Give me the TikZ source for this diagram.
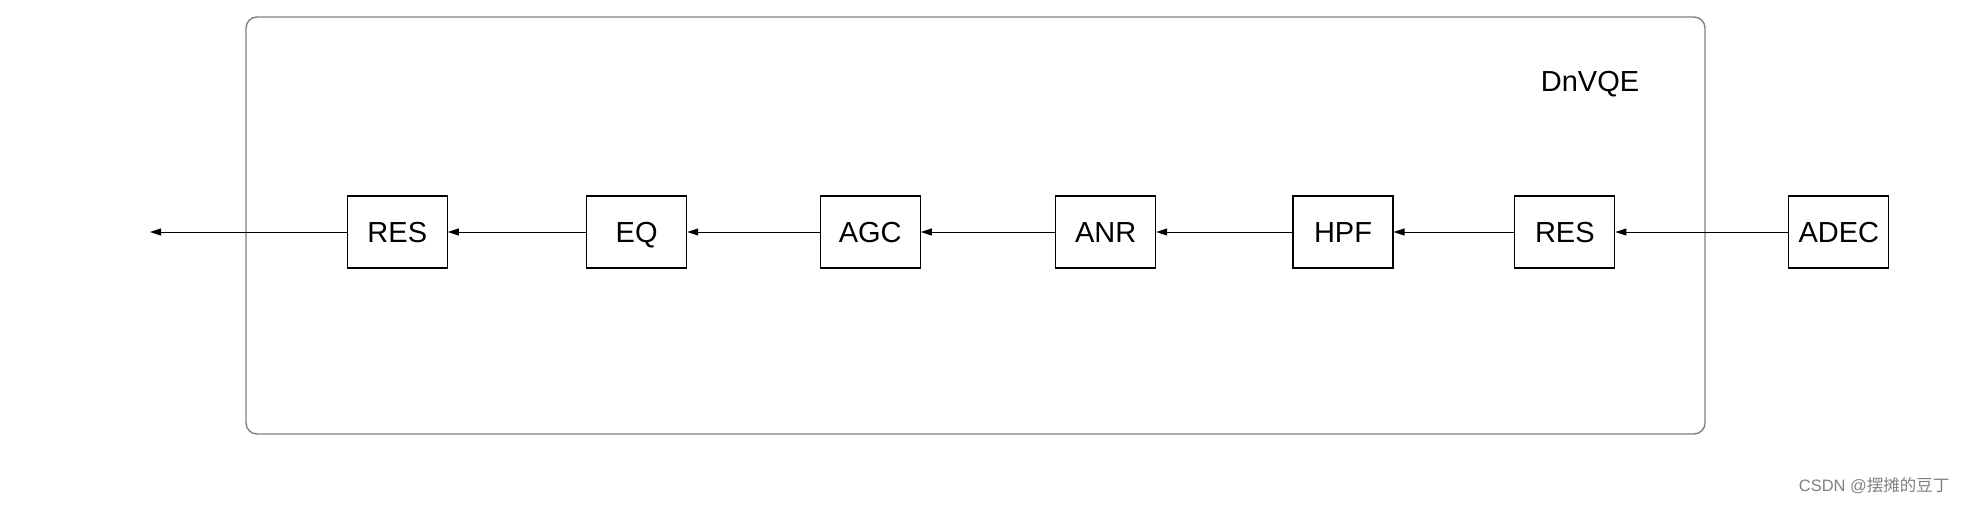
\documentclass[tikz,border=0pt]{standalone}
\usepackage{fontspec}
\setmainfont{Liberation Sans}
\newfontfamily\cjkfont{Noto Sans CJK SC}
\usetikzlibrary{arrows.meta}

\begin{document}
\begin{tikzpicture}[x=1pt,y=1pt,
    block/.style={shape=rectangle,draw=black,line width=1.2pt,minimum width=100pt,minimum height=72pt,inner sep=0pt,text height=21pt,text depth=0pt,font=\fontsize{29}{34}\selectfont},
    flow/.style={-{Triangle[length=11pt,width=7pt]},line width=1pt}]
    \useasboundingbox (0,0) rectangle (1969,-511);
    \draw[gray,line width=1.4pt,rounded corners=11pt] (246,-17) rectangle (1705,-434);
    \node[font=\fontsize{29}{34}\selectfont] (title) at (1590,-84) {DnVQE};

    \node[block] (ADEC) at (1838.8,-232) {ADEC};
    \node[block] (RESb) at (1564.8,-232) {RES};
    \node[block] (HPF) at (1343,-232) {HPF};
    \node[block] (ANR) at (1105.6,-232) {ANR};
    \node[block] (AGC) at (870.2,-232) {AGC};
    \node[block] (EQ) at (636.6,-232) {EQ};
    \node[block] (RESa) at (397.3,-232) {RES};
    \coordinate (out) at (150,-232);

    \path [flow](ADEC) edge  (RESb);
    \path [flow](RESb) edge  (HPF);
    \path [flow](HPF) edge  (ANR);
    \path [flow](ANR) edge  (AGC);
    \path [flow](AGC) edge  (EQ);
    \path [flow](EQ) edge  (RESa);
    \path [flow](RESa) edge  (out);

    \node[text=gray,font=\fontsize{16.5}{20}\selectfont,anchor=east] (mark) at (1953,-486) {CSDN @{\cjkfont 摆摊的豆丁}};
\end{tikzpicture}
\end{document}
